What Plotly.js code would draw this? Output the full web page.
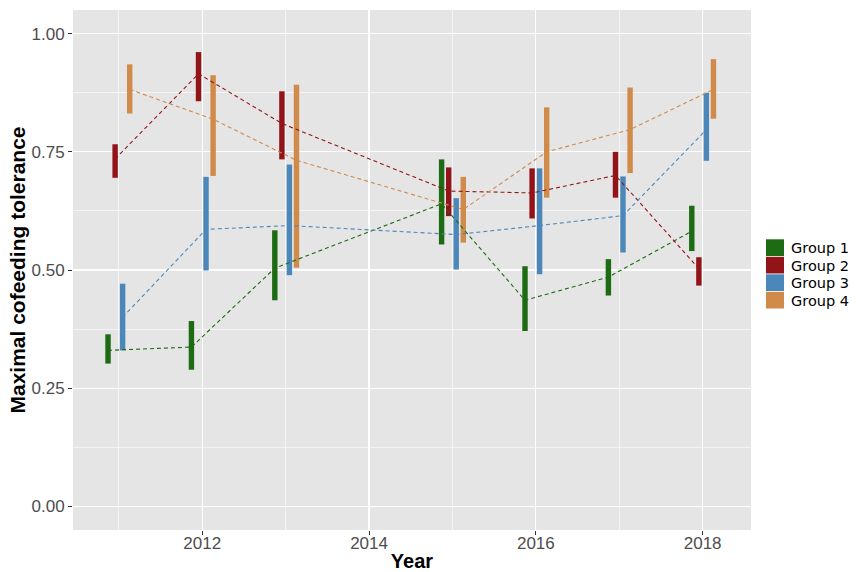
<!DOCTYPE html>
<html>
<head>
<meta charset="utf-8">
<script src="https://cdn.plot.ly/plotly-3.0.1.min.js"></script>
<style>html,body{margin:0;padding:0;background:#fff;}#chart{width:858px;height:572px;}</style>
</head>
<body>
<div id="chart"></div>
<script>
// ---- data ----
var years = [2011, 2012, 2013, 2015, 2016, 2017, 2018];
var groupNames = ["Group 1", "Group 2", "Group 3", "Group 4"];

var g1Mean = [0.330, 0.337, 0.504, 0.640, 0.436, 0.485, 0.582];
var g1Low  = [0.302, 0.289, 0.436, 0.554, 0.371, 0.446, 0.540];
var g1High = [0.364, 0.392, 0.584, 0.734, 0.508, 0.523, 0.636];

var g2Mean = [0.735, 0.915, 0.810, 0.667, 0.663, 0.700, 0.503];
var g2Low  = [0.695, 0.857, 0.734, 0.614, 0.609, 0.653, 0.467];
var g2High = [0.766, 0.961, 0.878, 0.717, 0.715, 0.750, 0.527];

var g3Mean = [0.400, 0.586, 0.594, 0.575, 0.594, 0.615, 0.797];
var g3Low  = [0.330, 0.499, 0.489, 0.501, 0.491, 0.537, 0.731];
var g3High = [0.471, 0.697, 0.723, 0.652, 0.715, 0.698, 0.875];

var g4Mean = [0.882, 0.819, 0.732, 0.628, 0.750, 0.797, 0.882];
var g4Low  = [0.831, 0.699, 0.505, 0.558, 0.653, 0.705, 0.820];
var g4High = [0.935, 0.912, 0.892, 0.697, 0.844, 0.886, 0.946];

// ---- styling ----
var colors = ["#1d6b13", "#931418", "#4c87ba", "#d08a4a"];
var offsets = [-0.13, -0.045, 0.045, 0.13];
var means = [g1Mean, g2Mean, g3Mean, g4Mean];
var lows = [g1Low, g2Low, g3Low, g4Low];
var highs = [g1High, g2High, g3High, g4High];

var traces = [];
for (var g = 0; g < 4; g++) {
  var xs = years.map(function (y) { return y + offsets[g]; });
  traces.push({
    type: "bar",
    x: xs,
    base: lows[g],
    y: highs[g].map(function (h, i) { return h - lows[g][i]; }),
    width: 0.065,
    name: groupNames[g],
    showlegend: false,
    marker: { color: colors[g], line: { width: 0 } },
    hoverinfo: "skip"
  });
}
for (var g2 = 0; g2 < 4; g2++) {
  var xs2 = years.map(function (y) { return y + offsets[g2]; });
  traces.push({
    type: "scatter",
    mode: "lines",
    x: xs2,
    y: means[g2],
    name: groupNames[g2],
    showlegend: false,
    line: { color: colors[g2], width: 1.1, dash: "4px,3px" },
    hoverinfo: "skip"
  });
}

// ---- legend drawn as keys + labels (ggplot-style, right side) ----
var W = 858, H = 572, ML = 73, MR = 107, MT = 10, MB = 42;
var PW = W - ML - MR, PH = H - MT - MB;
var keyX0 = 766, keyX1 = 784, keyTop = 238.5, keyH = 17.5;
var shapes = [], annotations = [];
for (var k = 0; k < groupNames.length; k++) {
  var y0 = keyTop + k * keyH, y1 = y0 + keyH;
  shapes.push({
    type: "rect", xref: "paper", yref: "paper",
    x0: (keyX0 - ML) / PW, x1: (keyX1 - ML) / PW,
    y0: 1 - (y1 - MT) / PH, y1: 1 - (y0 + 0.8 - MT) / PH,
    fillcolor: colors[k], line: { width: 0 }
  });
  annotations.push({
    xref: "paper", yref: "paper",
    x: (790 - ML) / PW, y: 1 - ((y0 + y1) / 2 + 1 - MT) / PH,
    xanchor: "left", yanchor: "middle", showarrow: false, borderpad: 0,
    text: groupNames[k], font: { family: "DejaVu Sans, sans-serif", size: 14.5, color: "#000000" }
  });
}

var layout = {
  width: W,
  height: H,
  margin: { l: ML, r: MR, t: MT, b: MB },
  paper_bgcolor: "#ffffff",
  plot_bgcolor: "#e5e5e5",
  barmode: "overlay",
  showlegend: false,
  font: { family: "Liberation Sans, Arial, sans-serif", color: "#4d4d4d" },
  xaxis: {
    range: [2010.45, 2018.58],
    tickvals: [2012, 2014, 2016, 2018],
    ticktext: ["2012", "2014", "2016", "2018"],
    showgrid: true, gridcolor: "#ffffff", gridwidth: 1.2,
    minor: { tickvals: [2011, 2013, 2015, 2017], showgrid: true, gridcolor: "#ffffff", gridwidth: 0.6, ticks: "" },
    zeroline: false, showline: false,
    ticks: "outside", ticklen: 4, tickcolor: "#333333", tickwidth: 1,
    tickfont: { size: 17, color: "#4d4d4d" },
    ticklabelstandoff: -6,
    automargin: false,
    title: { text: "Year", font: { size: 20, color: "#000000", weight: "bold" }, standoff: 2 }
  },
  yaxis: {
    range: [-0.05, 1.05],
    tickvals: [0, 0.25, 0.5, 0.75, 1],
    ticktext: ["0.00", "0.25", "0.50", "0.75", "1.00"],
    showgrid: true, gridcolor: "#ffffff", gridwidth: 1.2,
    minor: { tickvals: [0.125, 0.375, 0.625, 0.875], showgrid: true, gridcolor: "#ffffff", gridwidth: 0.6, ticks: "" },
    zeroline: false, showline: false,
    ticks: "outside", ticklen: 4, tickcolor: "#333333", tickwidth: 1,
    tickfont: { size: 17, color: "#4d4d4d" },
    automargin: false,
    title: { text: "Maximal cofeeding tolerance", font: { size: 21, color: "#000000", weight: "bold" }, standoff: 0 }
  },
  shapes: shapes,
  annotations: annotations
};

Plotly.newPlot("chart", traces, layout, { displayModeBar: false, staticPlot: true });
</script>
</body>
</html>
